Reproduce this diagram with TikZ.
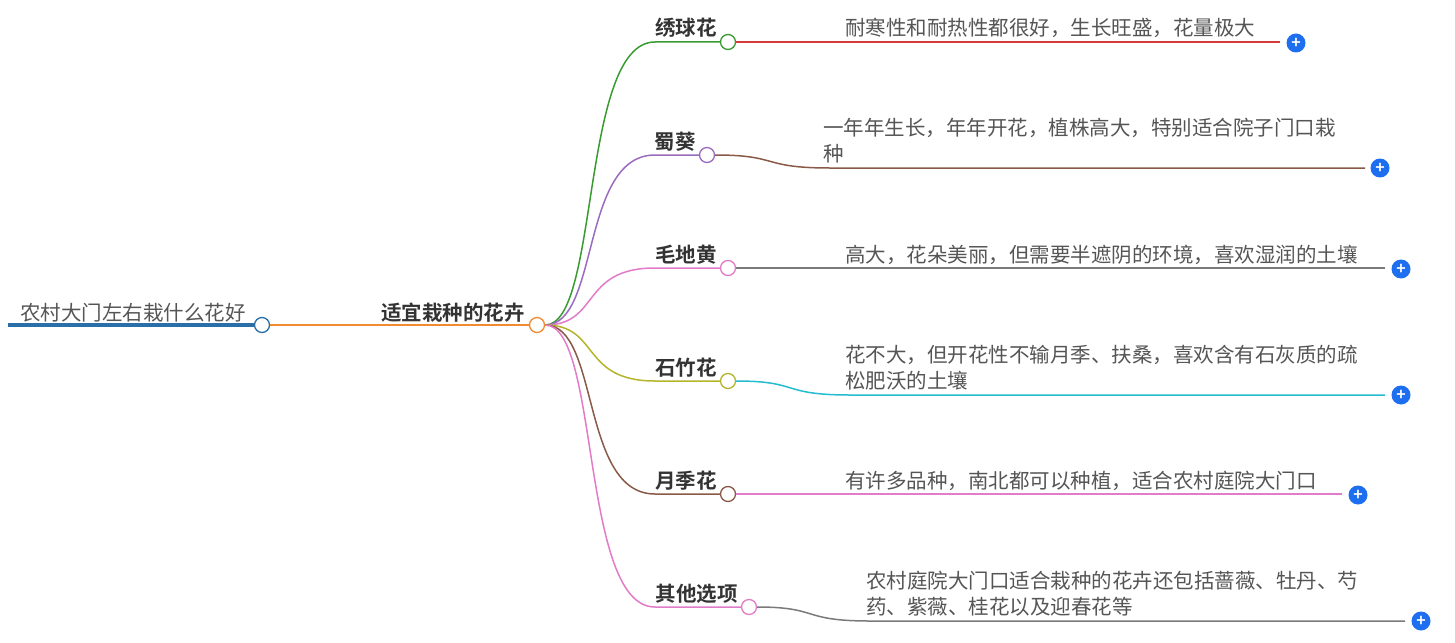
\documentclass[tikz,border=0pt]{standalone}
\usepackage{fontspec}
\setmainfont{Noto Sans CJK SC}[BoldFont={Noto Sans CJK SC Bold}]
\usetikzlibrary{positioning}
\definecolor{rootblue}{HTML}{2A6FA8}
\definecolor{orangec}{HTML}{F28A2E}
\definecolor{greenc}{HTML}{3A9A32}
\definecolor{purplec}{HTML}{9A6CC0}
\definecolor{pinkc}{HTML}{E27BC8}
\definecolor{olivec}{HTML}{B5B42A}
\definecolor{brownc}{HTML}{8A5A48}
\definecolor{redc}{HTML}{D63A3A}
\definecolor{grayc}{HTML}{7A7A7A}
\definecolor{cyanc}{HTML}{26BCD0}
\definecolor{plusblue}{HTML}{1E6EF0}
\definecolor{textc}{HTML}{555555}
\tikzset{
  dot/.style={circle,draw=#1,fill=white,line width=1.3pt,minimum size=15pt,inner sep=0pt},
  lab/.style={font=\fontsize{20.5}{20}\selectfont\bfseries,text=black!80,anchor=base east,inner sep=0pt},
  desc/.style={font=\fontsize{20.5}{26}\selectfont,text=textc,anchor=north west,align=left,inner sep=0pt},
  plusbtn/.style={circle,fill=plusblue,minimum size=19pt,inner sep=0pt,text=white,font=\bfseries\fontsize{16}{16}\selectfont}
}
\begin{document}
\begin{tikzpicture}[x=1pt,y=-1pt]
  \useasboundingbox (0,0) rectangle (1455,642);
  % root
  \coordinate (r0) at (8,325);
  \node[dot=rootblue] (root) at (262,325) {};
  \draw[rootblue,line width=4pt] (r0) -- (root.west);
  \node[desc,anchor=base west] (roottext) at (20,320) {农村大门左右栽什么花好};
  % center
  \node[dot=orangec] (mid) at (537,325) {};
  \draw[orangec,line width=2pt] (root.east) -- (mid.west);
  \node[lab] (midtext) at (525,320) {适宜栽种的花卉};
  % branches
  \foreach \nm/\y/\cx/\col/\txt in {a/42/728/greenc/绣球花, b/155/707/purplec/蜀葵, c/268/728/pinkc/毛地黄, d/381/728/olivec/石竹花, e/494/728/brownc/月季花, f/607/749/pinkc/其他选项}{
    \node[dot=\col] (\nm) at (\cx,\y) {};
    \draw[\col,line width=1.5pt] (mid.east) .. controls (600,325) and (580,\y) .. (655,\y) -- (\nm.west);
    \node[lab] at (\cx-11,\y-6) {\txt};
  }
  % descriptions
  \node[plusbtn] (pa) at (1296,43) {+};
  \draw[redc,line width=1.5pt] (a.east) -- (1280,42);
  \node[desc] at (845,18) {耐寒性和耐热性都很好，生长旺盛，花量极大};
  \node[plusbtn] (pb) at (1380,168) {+};
  \draw[brownc,line width=1.5pt] (b.east) .. controls (780,155) and (760,168) .. (830,168) -- (1365,168);
  \node[desc] at (823,118) {一年年生长，年年开花，植株高大，特别适合院子门口栽\\种};
  \node[plusbtn] (pc) at (1401,269) {+};
  \draw[grayc,line width=1.5pt] (c.east) -- (1385,268);
  \node[desc] at (845,245) {高大，花朵美丽，但需要半遮阴的环境，喜欢湿润的土壤};
  \node[plusbtn] (pd) at (1401,395) {+};
  \draw[cyanc,line width=1.5pt] (d.east) .. controls (800,381) and (780,395) .. (850,395) -- (1385,395);
  \node[desc] at (845,345) {花不大，但开花性不输月季、扶桑，喜欢含有石灰质的疏\\松肥沃的土壤};
  \node[plusbtn] (pe) at (1358,495) {+};
  \draw[pinkc,line width=1.5pt] (e.east) -- (1342,494);
  \node[desc] at (845,471) {有许多品种，南北都可以种植，适合农村庭院大门口};
  \node[plusbtn] (pf) at (1421,621) {+};
  \draw[grayc,line width=1.5pt] (f.east) .. controls (820,607) and (800,621) .. (870,621) -- (1405,621);
  \node[desc] at (866,571) {农村庭院大门口适合栽种的花卉还包括蔷薇、牡丹、芍\\药、紫薇、桂花以及迎春花等};
\end{tikzpicture}
\end{document}
